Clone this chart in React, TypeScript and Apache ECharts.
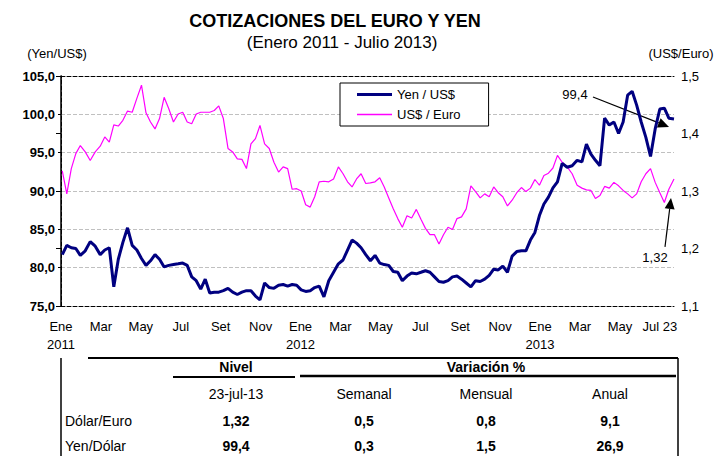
import React, { useEffect, useRef } from "react";
import * as echarts from "echarts";

// ---------- DATA ----------
const dates = [
  "2011-01-03","2011-01-10","2011-01-17","2011-01-24","2011-01-31","2011-02-07","2011-02-14","2011-02-21","2011-02-28",
  "2011-03-07","2011-03-14","2011-03-21","2011-03-28","2011-04-04","2011-04-11","2011-04-18","2011-04-25",
  "2011-05-02","2011-05-09","2011-05-16","2011-05-23","2011-05-30","2011-06-06","2011-06-13","2011-06-20","2011-06-27",
  "2011-07-04","2011-07-11","2011-07-18","2011-07-25","2011-08-01","2011-08-08","2011-08-15","2011-08-22","2011-08-29",
  "2011-09-05","2011-09-12","2011-09-19","2011-09-26","2011-10-03","2011-10-10","2011-10-17","2011-10-24","2011-10-31",
  "2011-11-07","2011-11-14","2011-11-21","2011-11-28","2011-12-05","2011-12-12","2011-12-19","2011-12-26",
  "2012-01-02","2012-01-09","2012-01-16","2012-01-23","2012-01-30","2012-02-06","2012-02-13","2012-02-20","2012-02-27",
  "2012-03-05","2012-03-12","2012-03-19","2012-03-26","2012-04-02","2012-04-09","2012-04-16","2012-04-23","2012-04-30",
  "2012-05-07","2012-05-14","2012-05-21","2012-05-28","2012-06-04","2012-06-11","2012-06-18","2012-06-25",
  "2012-07-02","2012-07-09","2012-07-16","2012-07-23","2012-07-30","2012-08-06","2012-08-13","2012-08-20","2012-08-27",
  "2012-09-03","2012-09-10","2012-09-17","2012-09-24","2012-10-01","2012-10-08","2012-10-15","2012-10-22","2012-10-29",
  "2012-11-05","2012-11-12","2012-11-19","2012-11-26","2012-12-03","2012-12-10","2012-12-17","2012-12-24","2012-12-31",
  "2013-01-07","2013-01-14","2013-01-21","2013-01-28","2013-02-04","2013-02-11","2013-02-18","2013-02-25",
  "2013-03-04","2013-03-11","2013-03-18","2013-03-25","2013-04-01","2013-04-08","2013-04-15","2013-04-22","2013-04-29",
  "2013-05-06","2013-05-13","2013-05-20","2013-05-27","2013-06-03","2013-06-10","2013-06-17","2013-06-24",
  "2013-07-01","2013-07-08","2013-07-15","2013-07-23"
];

const yenPerUsd = [
  81.7, 82.9, 82.6, 82.5, 81.6, 82.2, 83.4, 82.8, 81.7,
  82.3, 82.6, 77.5, 81.1, 83.3, 85.2, 82.9, 82.3,
  81.2, 80.3, 80.9, 81.7, 81.1, 80.1, 80.3, 80.4, 80.5,
  80.6, 80.3, 78.8, 78.3, 77.2, 78.5, 76.7, 76.8, 76.8,
  77.0, 77.3, 76.8, 76.5, 76.8, 77.0, 77.0, 76.3, 75.8,
  78.0, 77.4, 77.3, 77.7, 77.8, 77.6, 77.8, 77.7,
  77.1, 76.9, 77.0, 77.4, 77.6, 76.2, 78.3, 79.4, 80.5,
  81.0, 82.3, 83.6, 83.2, 82.6, 81.7, 80.9, 81.6, 80.6,
  80.4, 80.3, 79.5, 79.4, 78.3, 78.9, 79.3, 79.2,
  79.4, 79.6, 79.4, 78.8, 78.2, 78.1, 78.3, 78.8, 78.9,
  78.5, 78.0, 77.5, 78.3, 78.2, 78.5, 79.0, 79.8, 79.7,
  80.2, 79.4, 81.5, 82.1, 82.2, 82.2, 83.6, 84.6, 86.8,
  88.3, 89.2, 90.4, 91.2, 93.6, 93.1, 93.3, 94.0,
  93.8, 96.1, 94.8, 94.0, 93.3, 99.5, 98.6, 99.0, 97.5,
  99.0, 102.5, 103.0, 101.2, 99.0, 97.0, 94.5, 98.1,
  100.7, 100.8, 99.5, 99.4
];

const usdPerEuro = [
  1.335, 1.295, 1.339, 1.365, 1.379, 1.368, 1.353, 1.368, 1.378,
  1.394, 1.385, 1.415, 1.413, 1.423, 1.439, 1.437, 1.461,
  1.484, 1.436, 1.420, 1.408, 1.426, 1.463, 1.443, 1.420, 1.434,
  1.437, 1.420, 1.417, 1.434, 1.437, 1.437, 1.437, 1.440, 1.448,
  1.426, 1.374, 1.368, 1.356, 1.355, 1.339, 1.382, 1.391, 1.414,
  1.382, 1.374, 1.350, 1.333, 1.342, 1.339, 1.303, 1.304,
  1.300, 1.276, 1.272, 1.290, 1.316, 1.317, 1.316, 1.321, 1.342,
  1.330, 1.316, 1.307, 1.321, 1.330, 1.313, 1.314, 1.316, 1.323,
  1.307, 1.288, 1.269, 1.252, 1.237, 1.257, 1.253, 1.268,
  1.251, 1.235, 1.224, 1.224, 1.208, 1.224, 1.237, 1.233, 1.252,
  1.255, 1.269, 1.309, 1.299, 1.288, 1.295, 1.290, 1.307, 1.297,
  1.290, 1.274, 1.284, 1.297, 1.306, 1.299, 1.305, 1.320, 1.310,
  1.327, 1.331, 1.340, 1.362, 1.350, 1.342, 1.330, 1.310,
  1.305, 1.302, 1.301, 1.287, 1.292, 1.308, 1.305, 1.315, 1.309,
  1.301, 1.295, 1.288, 1.295, 1.316, 1.330, 1.339, 1.315,
  1.297, 1.280, 1.303, 1.321
];

const xTickLabels = [
  "Ene\n2011", "Mar", "May", "Jul", "Set", "Nov",
  "Ene\n2012", "Mar", "May", "Jul", "Set", "Nov",
  "Ene\n2013", "Mar", "May", "Jul 23"
];

const seriesNames = ["Yen / US$", "US$ / Euro"];
const axisNames = ["(Yen/US$)", "(US$/Euro)"];
const annotationYen = "99,4";
const annotationEuro = "1,32";

const tableRowLabels = ["Dólar/Euro", "Yen/Dólar"];
const tableSubHeaders = ["23-jul-13", "Semanal", "Mensual", "Anual"];
const tableNivel = ["1,32", "99,4"];
const tableSemanal = ["0,5", "0,3"];
const tableMensual = ["0,8", "1,5"];
const tableAnual = ["9,1", "26,9"];

// ---------- HELPERS ----------
const FONT = "'Liberation Sans', Arial, sans-serif";

function monthIndex(d: string): number {
  const [y, m, day] = d.split("-").map(Number);
  const dim = new Date(Date.UTC(y, m, 0)).getUTCDate();
  return (y - 2011) * 12 + (m - 1) + (day - 1) / dim;
}

const xEnd = monthIndex("2013-07-23");

const yenData = dates.map((d, i) => [monthIndex(d), yenPerUsd[i]]);
const eurData = dates.map((d, i) => [monthIndex(d), usdPerEuro[i]]);

const comma = (v: number, dec: number) => v.toFixed(dec).replace(".", ",");

function txt(x: number, y: number, text: string, size: number, bold = false, align = "center") {
  return {
    type: "text",
    x,
    y,
    silent: true,
    style: {
      text,
      fill: "#000",
      font: `${bold ? "bold " : ""}${size}px ${FONT}`,
      textAlign: align,
      textVerticalAlign: "middle",
    },
  };
}

function hline(x1: number, x2: number, y: number, w: number) {
  return { type: "line", silent: true, shape: { x1, y1: y, x2, y2: y }, style: { stroke: "#000", lineWidth: w } };
}
function vline(x: number, y1: number, y2: number, w: number) {
  return { type: "line", silent: true, shape: { x1: x, y1, x2: x, y2 }, style: { stroke: "#000", lineWidth: w } };
}

function arrow(x1: number, y1: number, x2: number, y2: number) {
  const ang = Math.atan2(y2 - y1, x2 - x1);
  const L = 11, W = 5;
  const bx = x2 - L * Math.cos(ang);
  const by = y2 - L * Math.sin(ang);
  const px = -Math.sin(ang) * W;
  const py = Math.cos(ang) * W;
  return [
    { type: "line", silent: true, shape: { x1, y1, x2: bx, y2: by }, style: { stroke: "#000", lineWidth: 1.2 } },
    {
      type: "polygon",
      silent: true,
      shape: { points: [[x2, y2], [bx + px, by + py], [bx - px, by - py]] },
      style: { fill: "#000" },
    },
  ];
}

export default function App() {
  const ref = useRef<HTMLDivElement>(null);

  useEffect(() => {
    if (!ref.current) return;
    const chart = echarts.init(ref.current, undefined, { renderer: "svg" });

    const option: any = {
      animation: false,
      backgroundColor: "#fff",
      textStyle: { fontFamily: FONT, color: "#000" },
      title: [
        {
          text: "COTIZACIONES DEL EURO Y YEN",
          left: 330,
          top: 7,
          textAlign: "center",
          textStyle: { fontSize: 18, fontWeight: "bold", color: "#000", fontFamily: FONT },
        },
        {
          text: "(Enero 2011 - Julio 2013)",
          left: 337,
          top: 29,
          textAlign: "center",
          textStyle: { fontSize: 17, fontWeight: "normal", color: "#000", fontFamily: FONT },
        },
      ],
      legend: {
        data: [
          { name: seriesNames[0], icon: "path://M0,0H35V3H0Z" },
          { name: seriesNames[1], icon: "path://M0,0H35V1.6H0Z" },
        ],
        orient: "vertical",
        left: 340,
        top: 83,
        backgroundColor: "#fff",
        borderColor: "#000",
        borderWidth: 1,
        borderRadius: 0,
        padding: [5, 28, 5, 17],
        itemGap: 7,
        itemWidth: 35,
        itemHeight: 14,
        textStyle: { fontSize: 13, color: "#000", fontFamily: FONT },
      },
      grid: { left: 61, right: 51, top: 76, bottom: 150, containLabel: false },
      xAxis: [
        {
          type: "value",
          min: 0,
          max: xEnd,
          interval: 2,
          axisLine: { show: true, lineStyle: { color: "#000", type: "dashed", width: 1 } },
          axisTick: { show: false },
          splitLine: { show: false },
          axisLabel: {
            show: true,
            margin: 11,
            fontSize: 13,
            lineHeight: 18,
            color: "#000",
            showMaxLabel: false,
            formatter: (v: number) => {
              const i = Math.round(v / 2);
              return xTickLabels[i] ?? "";
            },
          },
        },
        {
          type: "value",
          position: "top",
          min: 0,
          max: xEnd,
          interval: 2,
          axisLine: { show: true, lineStyle: { color: "#000", type: "dashed", width: 1 } },
          axisTick: { show: false },
          axisLabel: { show: false },
          splitLine: { show: false },
        },
      ],
      yAxis: [
        {
          type: "value",
          min: 75,
          max: 105,
          interval: 5,
          axisLine: { show: true, lineStyle: { color: "#000", type: "dashed", width: 1 } },
          axisTick: { show: true, inside: false, length: 3, lineStyle: { color: "#000" } },
          splitLine: { show: true, lineStyle: { color: "#c0c0c0", type: "dashed", width: 1 } },
          axisLabel: {
            fontSize: 13,
            fontWeight: "bold",
            color: "#000",
            margin: 6,
            formatter: (v: number) => comma(v, 1),
          },
        },
        {
          type: "value",
          min: 1.1,
          max: 1.5,
          interval: 0.1,
          position: "right",
          axisLine: { show: true, lineStyle: { color: "#000", width: 1.5 } },
          axisTick: { show: true, inside: true, length: 5, lineStyle: { color: "#000" } },
          splitLine: { show: false },
          axisLabel: {
            fontSize: 13,
            color: "#000",
            margin: 7,
            formatter: (v: number) => comma(v, 1),
          },
        },
      ],
      series: [
        {
          name: seriesNames[1],
          type: "line",
          xAxisIndex: 0,
          yAxisIndex: 1,
          data: eurData,
          symbol: "none",
          showSymbol: false,
          lineStyle: { color: "#ff00ff", width: 1.2 },
          itemStyle: { color: "#ff00ff" },
          z: 2,
        },
        {
          name: seriesNames[0],
          type: "line",
          xAxisIndex: 0,
          yAxisIndex: 0,
          data: yenData,
          symbol: "none",
          showSymbol: false,
          lineStyle: { color: "#000080", width: 3 },
          itemStyle: { color: "#000080" },
          z: 3,
        },
      ],
    };

    chart.setOption(option);

    const lastYen = yenData[yenData.length - 1];
    const lastEur = eurData[eurData.length - 1];
    const pY = chart.convertToPixel({ xAxisIndex: 0, yAxisIndex: 0 }, lastYen) as number[];
    const pE = chart.convertToPixel({ xAxisIndex: 0, yAxisIndex: 1 }, lastEur) as number[];

    const colN = 236, colS = 364, colM = 486, colA = 610;
    const row1 = 421, row2 = 446;

    const graphics: any[] = [
      // axis names
      txt(57, 53, axisNames[0], 13),
      txt(681, 53, axisNames[1], 13),
      // annotations
      txt(pY[0] - 99, pY[1] - 24, annotationYen, 13),
      ...arrow(pY[0] - 81, pY[1] - 22, pY[0] - 5, pY[1] + 8),
      txt(pE[0] - 19, pE[1] + 79, annotationEuro, 13),
      ...arrow(pE[0] - 9, pE[1] + 68, pE[0] - 3, pE[1] + 19),
      // table frame
      vline(61, 358, 456, 1.5),
      hline(88, 678, 358, 2),
      vline(678, 358, 456, 1.5),
      hline(173, 295, 377, 2),
      hline(300, 676, 376, 2.5),
      // headers
      txt(colN, 367, "Nivel", 14, true),
      txt(colM, 367, "Variación %", 14, true),
      txt(colN, 394, tableSubHeaders[0], 14),
      txt(colS, 394, tableSubHeaders[1], 14),
      txt(colM, 394, tableSubHeaders[2], 14),
      txt(colA, 394, tableSubHeaders[3], 14),
    ];
    [row1, row2].forEach((ry, i) => {
      graphics.push(txt(65, ry, tableRowLabels[i], 14, false, "left"));
      graphics.push(txt(colN, ry, tableNivel[i], 14, true));
      graphics.push(txt(colS, ry, tableSemanal[i], 14, true));
      graphics.push(txt(colM, ry, tableMensual[i], 14, true));
      graphics.push(txt(colA, ry, tableAnual[i], 14, true));
    });

    chart.setOption({ graphic: graphics });

    return () => chart.dispose();
  }, []);

  return (
    <div
      ref={ref}
      style={{ position: "absolute", left: 0, top: 0, width: 725, height: 456, background: "#fff" }}
    />
  );
}
